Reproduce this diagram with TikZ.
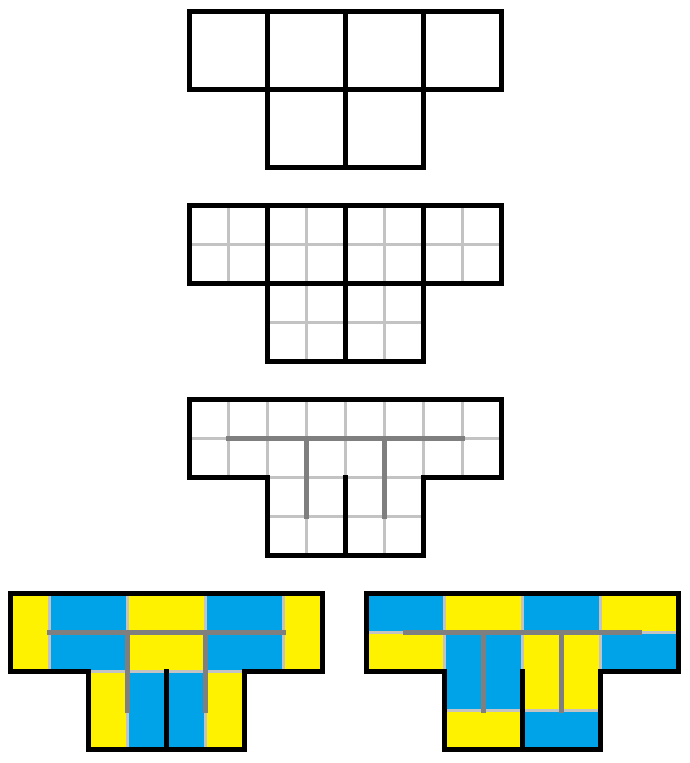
\documentclass[tikz,border=0pt]{standalone}
\usepackage{tikz}
\definecolor{tileyel}{HTML}{FFF200}
\definecolor{tileblu}{HTML}{00A2E8}
\definecolor{gridlt}{HTML}{C3C3C3}
\definecolor{gridmd}{HTML}{7F7F7F}
\tikzset{
  outline/.style={draw=black, line width=5pt},
  cellln/.style={draw=black, line width=5pt, line cap=rect},
  halfln/.style={draw=gridlt, line width=3pt},
  spine/.style={draw=gridmd, line width=5pt, line cap=rect},
  yel/.style={fill=tileyel},
  blu/.style={fill=tileblu},
}
\newcommand{\teeoutline}{(0,0) -- (8,0) -- (8,2) -- (6,2) -- (6,4) -- (2,4) -- (2,2) -- (0,2) -- cycle}

\begin{document}
\begin{tikzpicture}[x=1pt, y=-1pt]
  \useasboundingbox (0,0) rectangle (689,763);

  % six squares
  \begin{scope}[shift={(189.8,11.5)}, x=39pt, y=-39pt]
    \draw[cellln] (2,0) -- (2,2) (4,0) -- (4,4) (6,0) -- (6,2) (2,2) -- (6,2);
    \draw[outline] \teeoutline;
  \end{scope}

  % squares split in four
  \begin{scope}[shift={(189.8,205.8)}, x=39pt, y=-39pt]
    \foreach \k in {1,3,5,7} \draw[halfln] (\k,0) -- (\k,2);
    \foreach \k in {3,5} \draw[halfln] (\k,2) -- (\k,4);
    \draw[halfln] (0,1) -- (8,1) (2,3) -- (6,3);
    \draw[cellln] (2,0) -- (2,2) (4,0) -- (4,4) (6,0) -- (6,2) (2,2) -- (6,2);
    \draw[outline] \teeoutline;
  \end{scope}

  % fine grid with spine
  \begin{scope}[shift={(189.8,399.8)}, x=39pt, y=-39pt]
    \foreach \k in {1,...,7} \draw[halfln] (\k,0) -- (\k,2);
    \foreach \k in {3,5} \draw[halfln] (\k,2) -- (\k,4);
    \draw[halfln] (0,1) -- (8,1) (2,2) -- (6,2) (2,3) -- (6,3);
    \draw[spine] (1,1) -- (7,1) (3,1) -- (3,3) (5,1) -- (5,3);
    \draw[cellln] (4,2) -- (4,4);
    \draw[outline] \teeoutline;
  \end{scope}

  % first tiling
  \begin{scope}[shift={(10.8,593.2)}, x=39pt, y=-39pt]
    \fill[yel] (0,0) rectangle (1,2) (3,0) rectangle (5,2) (7,0) rectangle (8,2)
      (2,2) rectangle (3,4) (5,2) rectangle (6,4);
    \fill[blu] (1,0) rectangle (3,2) (5,0) rectangle (7,2) (3,2) rectangle (5,4);
    \draw[halfln] (1,0) -- (1,2) (3,0) -- (3,4) (5,0) -- (5,4) (7,0) -- (7,2) (2,2) -- (6,2);
    \draw[spine] (1,1) -- (7,1) (3,1) -- (3,3) (5,1) -- (5,3);
    \draw[cellln] (4,2) -- (4,4);
    \draw[outline] \teeoutline;
  \end{scope}

  % second tiling
  \begin{scope}[shift={(366.5,593.2)}, x=39pt, y=-39pt]
    \fill[yel] (0,1) rectangle (2,2) (2,0) rectangle (4,1) (6,0) rectangle (8,1)
      (4,1) rectangle (6,3) (2,3) rectangle (4,4);
    \fill[blu] (0,0) rectangle (2,1) (4,0) rectangle (6,1) (6,1) rectangle (8,2)
      (2,1) rectangle (4,3) (4,3) rectangle (6,4);
    \draw[halfln] (0,1) -- (8,1) (2,0) -- (2,2) (4,0) -- (4,2) (6,0) -- (6,2) (2,3) -- (6,3);
    \draw[spine] (1,1) -- (7,1) (3,1) -- (3,3) (5,1) -- (5,3);
    \draw[cellln] (4,2) -- (4,4);
    \draw[outline] \teeoutline;
  \end{scope}
\end{tikzpicture}
\end{document}
